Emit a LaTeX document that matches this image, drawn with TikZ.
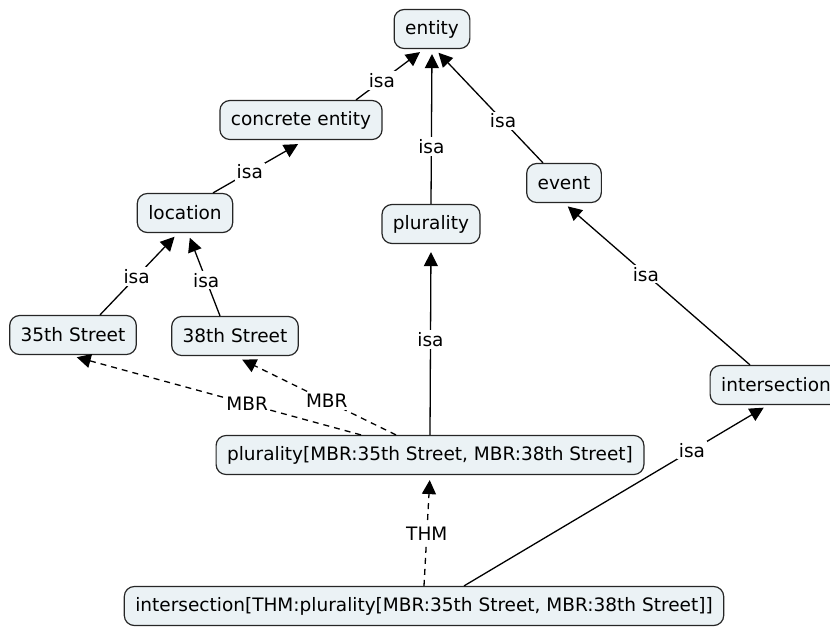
\documentclass[tikz,border=0pt]{standalone}
\usepackage{fontspec}
\setmainfont{DejaVu Sans}
\usetikzlibrary{calc,positioning,arrows.meta}
\definecolor{ConceptFill}{HTML}{EBF2F5}
\definecolor{ConceptLine}{HTML}{262626}

\begin{document}
\begin{tikzpicture}[
    x=1pt, y=-1pt,
    font=\fontsize{18.5}{22}\selectfont,
    concept/.style={
      rounded corners=10pt,
      draw=ConceptLine,
      fill=ConceptFill,
      line width=1.2pt,
      inner xsep=11pt,
      minimum height=39pt
    },
    link/.style={line width=1.3pt, -{Triangle[length=14pt,width=14pt]}, shorten >=5pt},
    maplink/.style={link, dash pattern=on 6pt off 5pt},
    lbl/.style={fill=white, inner sep=2pt}
  ]
    \useasboundingbox (0,0) rectangle (830,630);

    % concepts
    \node[concept] (entity)    at (432,29)  {entity};
    \node[concept] (concrete)  at (301,120) {concrete entity};
    \node[concept] (location)  at (185,213) {location};
    \node[concept] (plurality) at (431,224) {plurality};
    \node[concept] (event)     at (564,183) {event};
    \node[concept] (street35)  at (73,335)  {35th Street};
    \node[concept] (street38)  at (235,336) {38th Street};
    \node[concept] (inter)     at (776,385) {intersection};
    \node[concept] (plurMBR)   at (430,455) {plurality[MBR:35th Street, MBR:38th Street]};
    \node[concept] (interTHM)  at (424,606) {intersection[THM:plurality[MBR:35th Street, MBR:38th Street]]};

    % isa links
    \draw[link] ([xshift=55pt]concrete.north) -- ([xshift=-8pt]entity.south) node[lbl,pos=.38] {isa};
    \draw[link] (plurality.north) -- (entity.south) node[lbl,pos=.37] {isa};
    \draw[link] ([xshift=-21pt]event.north) -- ([xshift=3pt]entity.south) node[lbl,pos=.37] {isa};
    \draw[link,shorten >=8pt] ([xshift=28pt]location.north) -- ([xshift=4pt]concrete.south) node[lbl,pos=.4] {isa};
    \draw[link] ([xshift=27pt]street35.north) -- ([xshift=-7pt]location.south) node[lbl,pos=.47] {isa};
    \draw[link] ([xshift=-15pt]street38.north) -- ([xshift=3pt]location.south) node[lbl,pos=.43] {isa};
    \draw[link,shorten >=8pt] (plurMBR.north) -- (plurality.south) node[lbl,pos=.5] {isa};
    \draw[link] ([xshift=-26pt]inter.north) -- (event.south) node[lbl,pos=.56] {isa};
    \draw[link] ([xshift=40pt]interTHM.north) -- ([xshift=-8pt]inter.south) node[lbl,pos=.75] {isa};

    % role links
    \draw[maplink,shorten >=8pt] ([xshift=-69pt]plurMBR.north) -- ([xshift=-4pt]street35.south) node[lbl,pos=.39] {MBR};
    \draw[maplink,shorten >=8pt] ([xshift=-34pt]plurMBR.north) -- (street38.south) node[lbl,pos=.43] {MBR};
    \draw[maplink] (interTHM.north) -- (plurMBR.south) node[lbl,pos=.47] {THM};
  \end{tikzpicture}
\end{document}
